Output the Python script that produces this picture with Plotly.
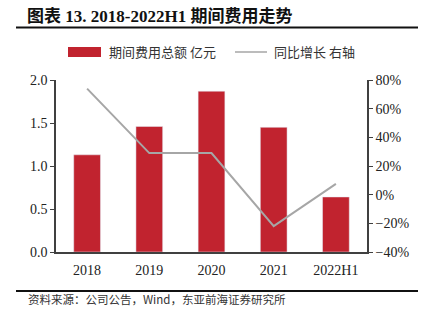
import plotly.graph_objects as go

categories = ["2018", "2019", "2020", "2021", "2022H1"]
expense = [1.13, 1.46, 1.87, 1.45, 0.64]
yoy = [74, 29, 29, -22, 7.5]

bar_name = "期间费用总额 亿元"
line_name = "同比增长 右轴"
title_text = "<b>图表 13. 2018-2022H1 期间费用走势</b>"
source_text = "资料来源：公司公告，Wind，东亚前海证券研究所"

L, R, T, B = 56, 58, 80, 72
W, H = 425, 324
pw, ph = W - L - R, H - T - B

def px_x(x):
    return (x - L) / pw

def px_y(y):
    return (H - B - y) / ph

serif = "Liberation Serif, Noto Sans CJK SC, serif"
cjk = "Noto Sans CJK SC, sans-serif"

fig = go.Figure()
fig.add_trace(go.Bar(x=categories, y=expense, name=bar_name, marker_color="#C1232F",
                     showlegend=False))
fig.add_trace(go.Scatter(x=categories, y=yoy, name=line_name, yaxis="y2", mode="lines",
                         line=dict(color="#A6A6A6", width=2), showlegend=False))

fig.update_layout(
    width=W, height=H,
    margin=dict(l=L, r=R, t=T, b=B),
    paper_bgcolor="white", plot_bgcolor="white",
    bargap=0.57,
    title=dict(text=title_text, x=27 / W, xanchor="left", y=1 - 16 / H, yanchor="middle",
               font=dict(family=serif, size=17, color="#111")),
    xaxis=dict(showline=True, linecolor="#404040", linewidth=1.5, ticks="",
               ticklabelstandoff=4,
               tickfont=dict(family=serif, size=14, color="#222"), showgrid=False),
    yaxis=dict(range=[0, 2], dtick=0.5, tickformat=".1f", showline=True, linecolor="#404040",
               linewidth=1.5, ticks="outside", ticklen=4, tickcolor="#404040", showgrid=False,
               zeroline=False, tickfont=dict(family=serif, size=14, color="#222")),
    yaxis2=dict(range=[-40, 80], dtick=20, ticksuffix="%", overlaying="y", side="right",
                showline=True, linecolor="#404040", linewidth=1.5, ticks="outside", ticklen=4,
                tickcolor="#404040", showgrid=False, zeroline=False,
                tickfont=dict(family=serif, size=14, color="#222")),
    showlegend=False,
)

shapes = [
    dict(type="line", xref="paper", yref="paper", x0=px_x(16), x1=px_x(418),
         y0=px_y(27.5), y1=px_y(27.5), line=dict(color="#111", width=2)),
    dict(type="line", xref="paper", yref="paper", x0=px_x(16), x1=px_x(418),
         y0=px_y(291), y1=px_y(291), line=dict(color="#111", width=2)),
    dict(type="rect", xref="paper", yref="paper", x0=px_x(68), x1=px_x(101),
         y0=px_y(57), y1=px_y(47), fillcolor="#C1232F", line=dict(width=0)),
    dict(type="line", xref="paper", yref="paper", x0=px_x(235), x1=px_x(267),
         y0=px_y(52), y1=px_y(52), line=dict(color="#A6A6A6", width=1.5)),
]
fig.update_layout(shapes=shapes)

annotations = [
    dict(text=bar_name, xref="paper", yref="paper", x=px_x(107), y=px_y(52),
         xanchor="left", yanchor="middle", showarrow=False,
         font=dict(family=cjk, size=13, color="#333")),
    dict(text=line_name, xref="paper", yref="paper", x=px_x(272), y=px_y(52),
         xanchor="left", yanchor="middle", showarrow=False,
         font=dict(family=cjk, size=13, color="#333")),
    dict(text=source_text, xref="paper", yref="paper", x=px_x(26), y=px_y(299),
         xanchor="left", yanchor="middle", showarrow=False,
         font=dict(family=cjk, size=11.5, color="#333")),
]
fig.update_layout(annotations=annotations)

fig.write_html("out.html")
